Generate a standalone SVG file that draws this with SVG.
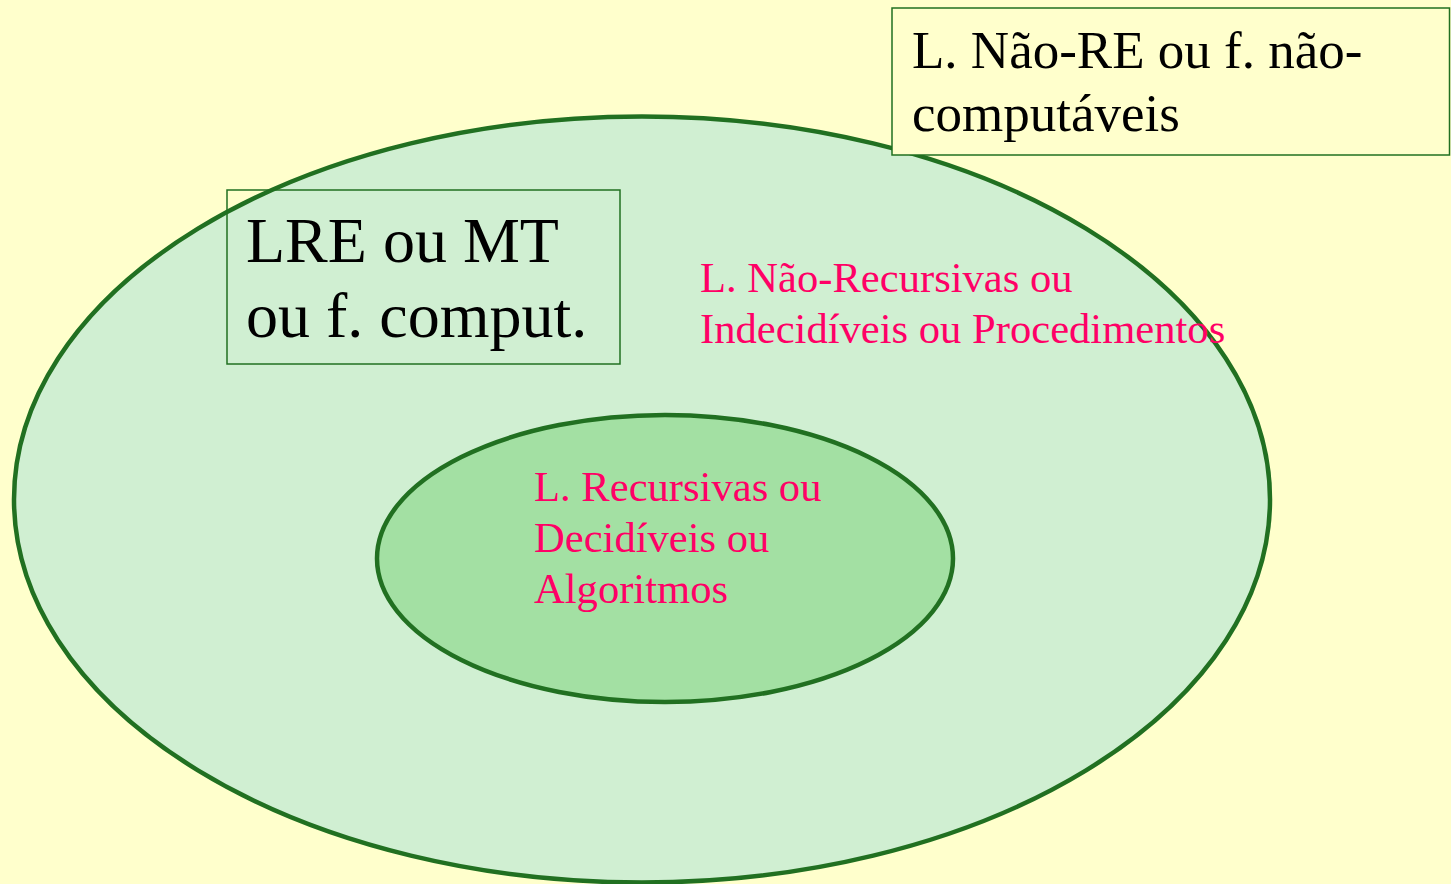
<svg xmlns="http://www.w3.org/2000/svg" width="1451" height="884" viewBox="0 0 1451 884">
<style>
.t{font-family:"Liberation Serif","Times New Roman",serif}
.blk{fill:#000}
.pk{fill:#ff0066;font-size:42.6px}
.ell{stroke:#217021;stroke-width:4.5}
.box{stroke:#217021;stroke-width:1.5}
</style>
<rect x="0" y="0" width="1451" height="884" fill="#ffffcc"/>
<g id="outer">
<ellipse class="ell" cx="642" cy="499.5" rx="628" ry="383" fill="#d0efd2"/>
<text class="t pk" x="700" y="292">L. Não-Recursivas ou</text>
<text class="t pk" x="700" y="343">Indecidíveis ou Procedimentos</text>
</g>
<g id="inner">
<ellipse class="ell" cx="665" cy="558.5" rx="288" ry="143.5" fill="#a3e0a3"/>
<text class="t pk" x="534" y="501">L. Recursivas ou</text>
<text class="t pk" x="534" y="552">Decidíveis ou</text>
<text class="t pk" x="534" y="603">Algoritmos</text>
</g>
<g id="lre">
<rect class="box" x="227" y="190" width="393" height="174" fill="none"/>
<text class="t blk" x="246" y="262" font-size="64">LRE ou MT</text>
<text class="t blk" x="246" y="337" font-size="64">ou f. comput.</text>
</g>
<g id="naore">
<rect class="box" x="892" y="8" width="557.5" height="147" fill="#ffffcc"/>
<text class="t blk" x="912" y="68" font-size="53">L. Não-RE ou f. não-</text>
<text class="t blk" x="912" y="131" font-size="53">computáveis</text>
</g>
<g id="connectors"></g>
</svg>
